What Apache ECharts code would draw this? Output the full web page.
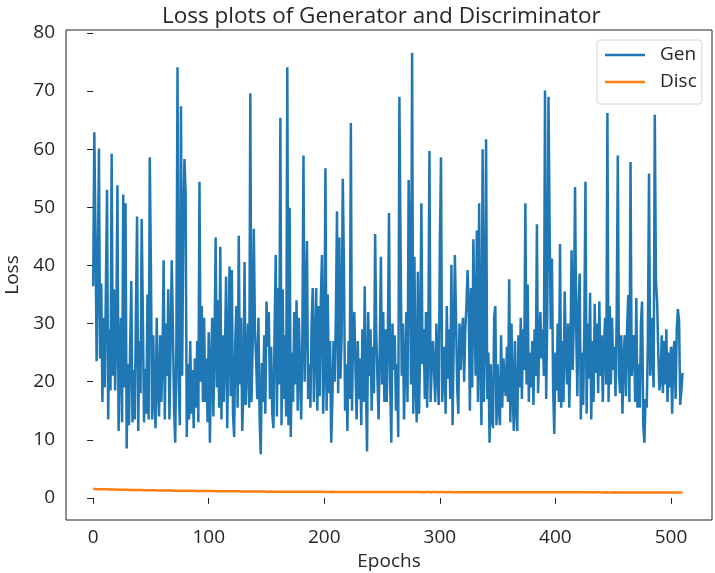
<!DOCTYPE html>
<html>
<head>
<meta charset="utf-8">
<script src="https://cdn.jsdelivr.net/npm/echarts@6/dist/echarts.min.js"></script>
<style>html,body{margin:0;padding:0;background:#fff}#c{width:715px;height:573px}</style>
</head>
<body>
<div id="c"></div>
<script>
const titleText = 'Loss plots of Generator and Discriminator';
const xTicks = [0, 100, 200, 300, 400, 500];
const yTicks = [0, 10, 20, 30, 40, 50, 60, 70, 80];

const genLoss = [
36.4,62.9,45.7,23.5,38.8,60.1,24,36.9,16.5,31,19,35.9,53,13.5,29,18.5,59.2,21,35.9,18.5,
29,53.8,11.5,25,31,13,52.2,19,50.7,8.5,23,12.5,26.1,37.3,13,22,13.5,32,48.4,11.5,
27,18,48,31.6,13,22.2,14.5,35,13.5,58.6,39.2,13.5,28,17,12,31,19,14,28,16.5,
24,40.9,13.5,30,21,35.9,13.5,26,40.9,29.3,15.5,9.5,26.1,74.1,20,12.5,67.4,21,45.7,58.3,
52.5,10.5,23,13.5,27,14.5,22,12,24,15.5,27,13,54.4,20,33,16.5,31,16.5,24,13,
28.5,9.5,22.6,31,14,26,44.8,19,34,15.5,43.2,13.5,28,16.5,24,38.1,12,26.1,39.8,17.5,
39.2,14.5,10.5,27.1,33,15.5,45.1,19.5,31,11.5,18,40.6,16,23,30,15.5,69.6,16.5,26,46.3,
29,24,17,31,14,7.5,23.2,16.5,28,14.5,33.8,26,32,17,26,14.5,12,29,41.8,14,
36.1,19.5,65.4,12.5,35.9,17,28,14,74.1,12.5,49.9,10.5,25,16.5,32,19.5,34,15,31,22,
13.5,27,58.9,20,32,44.2,17,23,15.5,30,36.1,16.5,26,36.1,15,33,17.5,34,41.8,14.5,
22,56.7,15,35,18,27,9.5,17,27,20,31,49.3,18,44.8,20.5,28,54.9,40.1,15,23,
11.5,27,17,64.5,15,30,32,22,13.5,27,17,24,12.5,29,16.5,36.4,19.5,8,32,21,
29,15,26,18,45.4,28,20.5,13.5,26,41.5,19.5,32,16.5,29,16.5,27,49,19.5,9.5,30,
22,28,15,23,10.5,69,43.4,21,30,13.5,23,32,16.5,54.7,41.7,19.5,76.6,14.5,41.5,19.5,
13,38.9,14.5,26,50.7,23,29,17,32,15.5,26,59.7,16.5,23,27,22,16.5,30,21.5,16,
43.2,58.6,16.5,21,26,14.5,33,20.5,29,17,40.1,12.5,27,41.8,31,19,14.5,30,22,28,
31,20,29,33,39.2,33,15,36.1,19,44.5,31,21,46,16.5,50.7,24,12.5,60,16.5,27,
61.7,17,25,9.5,23,13.5,12,31,33,12.5,23,15.5,12.5,28,15.5,24,20,17.5,26,16.5,
37.6,13,30,18,11.5,27,15.5,11.5,28,19,31,17,29,22,50.7,19.5,36.7,16.5,25,19,
27,16,29,21,47.1,18,26,32,24,29,21,70.1,17,32,69,46.3,29,41.2,19,11,
25,18.5,30,16.5,43.7,15.5,27,16.5,35.5,26,19.5,30,15.5,25,42.6,22,32,53.5,29,17.5,
33.4,38.6,13.5,25,16,29,54.4,14.5,30,20.5,35.3,13.5,27,16.5,33.4,21.5,30,18,33.8,21,
28,16.5,26,31,19.5,66.2,16.5,33,19.5,31,22,26,17.5,31,58.9,21,18,28,14.5,24,
28,17.5,29,34.9,16.5,57.8,21,25,28,16.5,34.4,15.5,23,15.5,30,33.8,12.5,9.5,17,15.5,
27,55.8,21,31,24,19,65.9,37.3,33.8,25,18.5,20.5,28,18,27,19.5,29,16.5,25,19,
26,14.5,25,27,17,29,32.5,30.5,16,18.5,21.5
];

const discLoss = [
1.55,1.53,1.54,1.52,1.51,1.52,1.50,1.49,1.50,1.48,1.48,1.47,1.48,1.46,1.46,1.45,1.46,1.44,1.44,1.43,
1.44,1.42,1.42,1.41,1.42,1.40,1.40,1.39,1.40,1.38,1.39,1.38,1.37,1.38,1.37,1.36,1.37,1.36,1.35,1.36,
1.35,1.34,1.35,1.34,1.33,1.34,1.33,1.32,1.33,1.32,1.31,1.32,1.31,1.30,1.31,1.30,1.29,1.30,1.29,1.28,
1.29,1.28,1.28,1.27,1.28,1.27,1.26,1.27,1.26,1.26,1.25,1.26,1.25,1.24,1.25,1.24,1.24,1.23,1.24,1.23,
1.23,1.22,1.23,1.22,1.22,1.21,1.22,1.21,1.21,1.20,1.21,1.20,1.20,1.19,1.20,1.19,1.19,1.18,1.19,1.18,
1.18,1.18,1.17,1.18,1.17,1.17,1.16,1.17,1.16,1.16,1.15,1.16,1.15,1.15,1.15,1.14,1.15,1.14,1.14,1.14,
1.13,1.14,1.13,1.13,1.13,1.12,1.13,1.12,1.12,1.12,1.11,1.12,1.11,1.11,1.11,1.10,1.11,1.10,1.10,1.10,
1.10,1.09,1.10,1.09,1.09,1.10,1.09,1.08,1.09,1.09,1.08,1.09,1.08,1.08,1.09,1.08,1.08,1.07,1.08,1.08,
1.07,1.08,1.07,1.07,1.08,1.07,1.07,1.06,1.07,1.07,1.06,1.07,1.06,1.06,1.07,1.06,1.06,1.06,1.05,1.06,
1.06,1.05,1.06,1.05,1.05,1.06,1.05,1.05,1.04,1.05,1.05,1.04,1.05,1.04,1.04,1.05,1.04,1.04,1.04,1.03,
1.04,1.04,1.03,1.04,1.03,1.03,1.04,1.03,1.03,1.03,1.02,1.03,1.03,1.02,1.03,1.02,1.02,1.03,1.02,1.02,
1.02,1.03,1.02,1.02,1.03,1.02,1.02,1.02,1.01,1.02,1.02,1.01,1.02,1.02,1.01,1.02,1.01,1.02,1.02,1.01,
1.02,1.01,1.01,1.02,1.01,1.01,1.02,1.01,1.01,1.01,1.02,1.01,1.01,1.00,1.01,1.01,1.02,1.01,1.01,1.00,
1.01,1.01,1.00,1.01,1.01,1.00,1.01,1.00,1.01,1.01,1.00,1.01,1.00,1.00,1.01,1.00,1.01,1.00,1.00,1.01,
1.00,1.00,1.01,1.00,1.00,1.00,0.99,1.00,1.00,1.01,1.00,1.00,0.99,1.00,1.00,0.99,1.00,1.00,0.99,1.00,
1.00,0.99,1.00,1.00,0.99,1.00,0.99,0.99,1.00,0.99,1.00,0.99,0.99,1.00,0.99,0.99,0.99,1.00,0.99,0.99,
0.99,1.00,0.99,0.99,0.98,0.99,0.99,0.99,1.00,0.99,0.99,0.98,0.99,0.99,0.99,0.98,0.99,0.99,0.98,0.99,
0.99,0.98,0.99,0.99,0.98,0.99,0.98,0.99,0.99,0.98,0.99,0.98,0.98,0.99,0.98,0.99,0.98,0.98,0.99,0.98,
0.98,0.98,0.99,0.98,0.98,0.97,0.98,0.98,0.99,0.98,0.98,0.97,0.98,0.98,0.97,0.98,0.98,0.97,0.98,0.98,
0.97,0.98,0.98,0.97,0.98,0.97,0.97,0.98,0.97,0.98,0.97,0.97,0.98,0.97,0.97,0.97,0.98,0.97,0.97,0.96,
0.97,0.97,0.96,0.97,0.97,0.96,0.97,0.97,0.96,0.97,0.96,0.97,0.96,0.96,0.97,0.96,0.96,0.97,0.96,0.96,
0.96,0.96,0.97,0.96,0.96,0.95,0.96,0.96,0.96,0.95,0.96,0.96,0.95,0.96,0.96,0.95,0.96,0.95,0.96,0.95,
0.95,0.96,0.95,0.95,0.96,0.95,0.95,0.95,0.94,0.95,0.95,0.95,0.96,0.95,0.95,0.94,0.95,0.95,0.94,0.95,
0.95,0.94,0.95,0.95,0.94,0.95,0.94,0.94,0.95,0.94,0.95,0.94,0.94,0.95,0.94,0.94,0.93,0.94,0.94,0.95,
0.94,0.94,0.93,0.94,0.94,0.93,0.94,0.93,0.94,0.94,0.93,0.94,0.93,0.93,0.94,0.93,0.94,0.93,0.93,0.94,
0.93,0.93,0.94,0.93,0.93,0.92,0.93,0.93,0.92,0.93,0.93
];

const FONT = 'Open Sans';
const TXT = '#262626';
const chart = echarts.init(document.getElementById('c'), null, {renderer: 'canvas'});
const genData = genLoss.map((v, i) => [i, v]);
const discData = discLoss.map((v, i) => [i, v]);

chart.setOption({
  animation: false,
  backgroundColor: '#fff',
  textStyle: {fontFamily: FONT},
  title: {
    text: titleText, left: 157, top: 0,
    textStyle: {fontFamily: FONT, fontSize: 22.5, fontWeight: 'normal', color: TXT}
  },
  grid: {left: 66, right: 3, top: 30, bottom: 53, containLabel: false, outerBoundsMode: 'none',
         show: true, borderColor: '#222', borderWidth: 1, backgroundColor: 'transparent'},
  legend: {
    orient: 'vertical', left: 597, top: 40,
    padding: [5, 5, 12, 8], itemGap: 7,
    borderColor: '#d6d6d6', borderWidth: 1, borderRadius: 3, backgroundColor: 'rgba(255,255,255,0.8)',
    itemWidth: 40, itemHeight: 2.5, icon: 'rect',
    textStyle: {fontFamily: FONT, fontSize: 19, lineHeight: 20, color: TXT, padding: [0, 0, 0, 10]},
    data: ['Gen', 'Disc']
  },
  xAxis: {
    type: 'value', min: -23.5, max: 535.5,
    name: 'Epochs', nameLocation: 'middle', nameGap: 30,
    nameTextStyle: {fontFamily: FONT, fontSize: 19, color: TXT},
    splitLine: {show: false},
    axisLine: {show: false},
    axisTick: {show: true, length: 6, lineStyle: {color: '#222'}, customValues: xTicks},
    axisLabel: {margin: 8, fontFamily: FONT, fontSize: 19, color: TXT, customValues: xTicks}
  },
  yAxis: {
    type: 'value', min: -3.8, max: 80.5,
    name: 'Loss', nameLocation: 'middle', nameGap: 44,
    nameTextStyle: {fontFamily: FONT, fontSize: 19, color: TXT},
    splitLine: {show: false},
    axisLine: {show: false},
    axisTick: {show: true, length: 6, lineStyle: {color: '#222'}, customValues: yTicks},
    axisLabel: {margin: 11, fontFamily: FONT, fontSize: 19, color: TXT, customValues: yTicks}
  },
  series: [
    {name: 'Gen', type: 'line', data: genData, showSymbol: false, symbol: 'none',
     lineStyle: {color: '#1f77b4', width: 2.5}, itemStyle: {color: '#1f77b4'}},
    {name: 'Disc', type: 'line', data: discData, showSymbol: false, symbol: 'none',
     lineStyle: {color: '#ff7f0e', width: 2.5}, itemStyle: {color: '#ff7f0e'}}
  ]
});
</script>
</body>
</html>
